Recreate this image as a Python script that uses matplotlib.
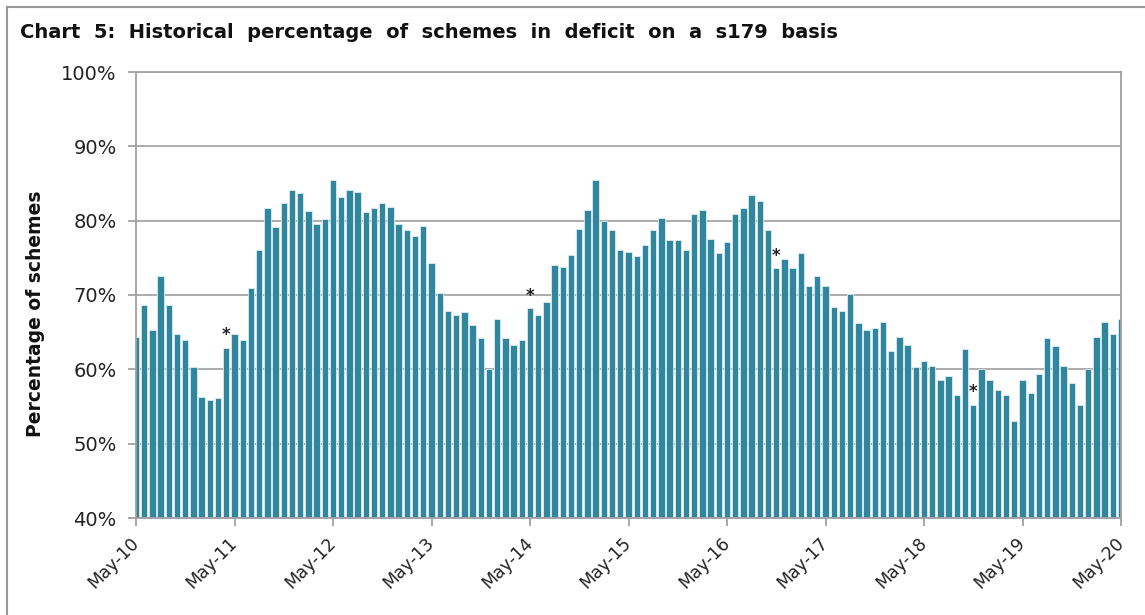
import matplotlib
matplotlib.use("Agg")
import matplotlib.pyplot as plt
import numpy as np

# monthly values, May-10 to May-20 (% of schemes in deficit, s179 basis)
pct_deficit = [
    64.4, 68.6, 65.3, 72.6, 68.6, 64.7, 64.0, 60.3, 56.3, 55.9, 56.1, 62.9,
    64.7, 64.0, 71.0, 76.1, 81.7, 79.1, 82.4, 84.1, 83.7, 81.3, 79.6, 80.2,
    85.5, 83.2, 84.1, 83.9, 81.1, 81.7, 82.4, 81.9, 79.6, 78.7, 78.0, 79.3,
    74.3, 70.3, 67.9, 67.3, 67.7, 66.0, 64.2, 60.0, 66.8, 64.2, 63.3, 64.0,
    68.2, 67.3, 69.0, 74.0, 73.8, 75.4, 78.9, 81.5, 85.5, 80.0, 78.7, 76.1,
    75.8, 75.2, 76.7, 78.7, 80.4, 77.4, 77.4, 76.1, 80.9, 81.5, 77.5, 75.6,
    77.1, 80.9, 81.7, 83.5, 82.6, 78.7, 73.6, 74.9, 73.6, 75.6, 71.2, 72.5,
    71.2, 68.4, 67.9, 70.1, 66.2, 65.3, 65.5, 66.4, 62.5, 64.4, 63.3, 60.3,
    61.1, 60.4, 58.5, 59.1, 56.5, 62.7, 55.2, 60.0, 58.5, 57.2, 56.5, 53.0,
    58.5, 56.8, 59.4, 64.2, 63.1, 60.4, 58.1, 55.2, 60.0, 64.4, 66.4, 64.7,
    66.8,
]
# months marked with an asterisk
star_idx = [11, 48, 78, 102]
year_labels = ['May-10', 'May-11', 'May-12', 'May-13', 'May-14', 'May-15',
               'May-16', 'May-17', 'May-18', 'May-19', 'May-20']
y_ticks = [40, 50, 60, 70, 80, 90, 100]

W, H = 1145, 615
fig = plt.figure(figsize=(W / 100, H / 100), dpi=100)
ax = fig.add_axes([136 / W, 1 - 518 / H, (1121 - 136) / W, (518 - 72) / H])

x = np.arange(len(pct_deficit))
ax.bar(x, pct_deficit, width=0.78, color='#31869e', edgecolor='#d8eef4',
       linewidth=0.6, zorder=2)
for i in star_idx:
    ax.text(x[i], pct_deficit[i] + 0.5, '*', ha='center', va='bottom',
            fontsize=12, fontweight='bold', color='#222222', zorder=3)

ax.set_xlim(0, len(pct_deficit) - 1)
ax.set_ylim(40, 100)
ax.set_yticks(y_ticks)
ax.set_yticklabels([f'{v}%' for v in y_ticks], fontsize=14, color='#222222')
ax.set_xticks(x[::12])
ax.set_xticklabels(year_labels, rotation=45, ha='right', va='center',
                   rotation_mode='anchor', fontsize=12.5, color='#222222')
ax.tick_params(axis='both', direction='out', length=6, width=1.2,
               color='#999999')
ax.tick_params(axis='y', pad=8)
ax.tick_params(axis='x', pad=10)
ax.grid(axis='y', color='#a6a6a6', linewidth=1.3, zorder=0)
ax.set_axisbelow(True)
for s in ax.spines.values():
    s.set_color('#a0a0a0')
    s.set_linewidth(1.3)

fig.text(36 / W, 1 - 314 / H, 'Percentage of schemes', rotation=90,
         ha='center', va='center', fontsize=13.5, fontweight='bold', color='#111111')
fig.text(20 / W, 1 - 32 / H,
         'Chart  5:  Historical  percentage  of  schemes  in  deficit  on  a  s179  basis',
         ha='left', va='center', fontsize=14, fontweight='bold', color='#111111')

# outer frame (left and top edges visible)
fig.add_artist(plt.Line2D([7 / W, 7 / W], [0, 1 - 7 / H], color='#999999', lw=1.5))
fig.add_artist(plt.Line2D([7 / W, 1], [1 - 7 / H, 1 - 7 / H], color='#999999', lw=1.5))

fig.savefig('out.png', dpi=100)
